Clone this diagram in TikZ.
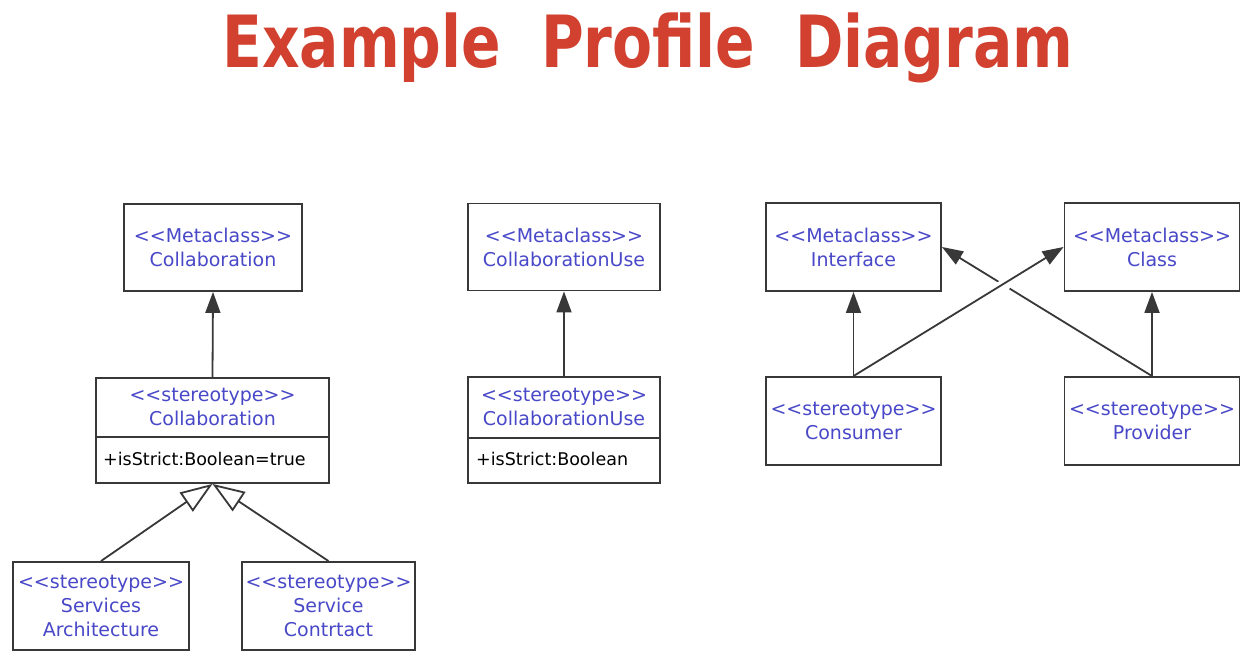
\documentclass[tikz,border=0pt]{standalone}
\usepackage{fontspec}
\setmainfont{DejaVu Sans}
\newfontfamily\titlefont{DejaVu Sans Condensed}[FakeStretch=0.9]
\usetikzlibrary{arrows.meta}
\definecolor{umlblue}{HTML}{4848C8}
\definecolor{titlered}{HTML}{D2412F}
\definecolor{umlline}{HTML}{383838}
\tikzset{
  umlbox/.style={draw=umlline, line width=1.9pt, fill=white, rectangle, inner sep=0pt},
  stxt/.style={text=umlblue, font=\fontsize{19}{24}\selectfont, align=center, inner sep=0pt},
  attr/.style={text=black, font=\fontsize{17.5}{22}\selectfont, anchor=west, inner sep=0pt},
  ext/.style={draw=umlline, line width=1.8pt, -{Triangle[width=15pt,length=21pt]}},
  gen/.style={draw=umlline, line width=1.8pt, -{Triangle[open, width=23pt, length=32pt, fill=white]}},
}
\begin{document}
\begin{tikzpicture}[x=1pt,y=-1pt]
\fill[white] (0,0) rectangle (1251,666);
\useasboundingbox (0,0) rectangle (1251,666);

\node[font=\titlefont\bfseries\fontsize{72}{80}\selectfont, text=titlered, anchor=base, inner sep=0pt] (title) at (648,68) {Example\hspace{40pt}Profile\hspace{40pt}Diagram};

% left group
\node[umlbox, stxt, minimum width=178pt, minimum height=87pt] (mc1) at (213,247.5) {<{}<Metaclass>{}>\\Collaboration};
\node[umlbox, minimum width=233pt, minimum height=105pt] (st1) at (212.5,430.5) {};
\draw[draw=umlline, line width=1.9pt] (st1.west |- 0,437) -- (st1.east |- 0,437);
\node[stxt] (st1t) at (212.5,406.5) {<{}<stereotype>{}>\\Collaboration};
\node[attr] (st1a) at (103,459) {+isStrict:Boolean=true};
\node[umlbox, stxt, minimum width=176pt, minimum height=88pt] (sa) at (101,606) {<{}<stereotype>{}>\\Services\\Architecture};
\node[umlbox, stxt, minimum width=173pt, minimum height=88pt] (sc) at (328.5,606) {<{}<stereotype>{}>\\Service\\Contrtact};

% middle group
\node[umlbox, stxt, minimum width=192pt, minimum height=87pt] (mc2) at (564,247) {<{}<Metaclass>{}>\\CollaborationUse};
\node[umlbox, minimum width=192pt, minimum height=106pt] (st2) at (564,430) {};
\draw[draw=umlline, line width=1.9pt] (st2.west |- 0,438) -- (st2.east |- 0,438);
\node[stxt] (st2t) at (564,406.5) {<{}<stereotype>{}>\\CollaborationUse};
\node[attr] (st2a) at (476,459) {+isStrict:Boolean};

% right group
\node[umlbox, stxt, minimum width=175pt, minimum height=88pt] (iface) at (853.5,247) {<{}<Metaclass>{}>\\Interface};
\node[umlbox, stxt, minimum width=175pt, minimum height=88pt] (class) at (1152,247) {<{}<Metaclass>{}>\\Class};
\node[umlbox, stxt, minimum width=175pt, minimum height=88pt] (cons) at (853.5,421) {<{}<stereotype>{}>\\Consumer};
\node[umlbox, stxt, minimum width=175pt, minimum height=88pt] (prov) at (1152,421) {<{}<stereotype>{}>\\Provider};

% connectors
\draw[ext] (st1.north) -- (mc1.south);
\draw[ext] (st2.north) -- (mc2.south);
\draw[gen] (sa.north) -- (st1.south);
\draw[gen] (sc.north) -- (st1.south);
\draw[ext] (cons.north) -- (iface.south);
\draw[ext] (prov.north) -- (class.south);
\draw[ext] (prov.north) -- (iface.east);
\draw[ext, preaction={draw=white, line width=9pt, shorten <=140pt, shorten >=50pt}] (cons.north) -- (class.west);
\end{tikzpicture}
\end{document}
